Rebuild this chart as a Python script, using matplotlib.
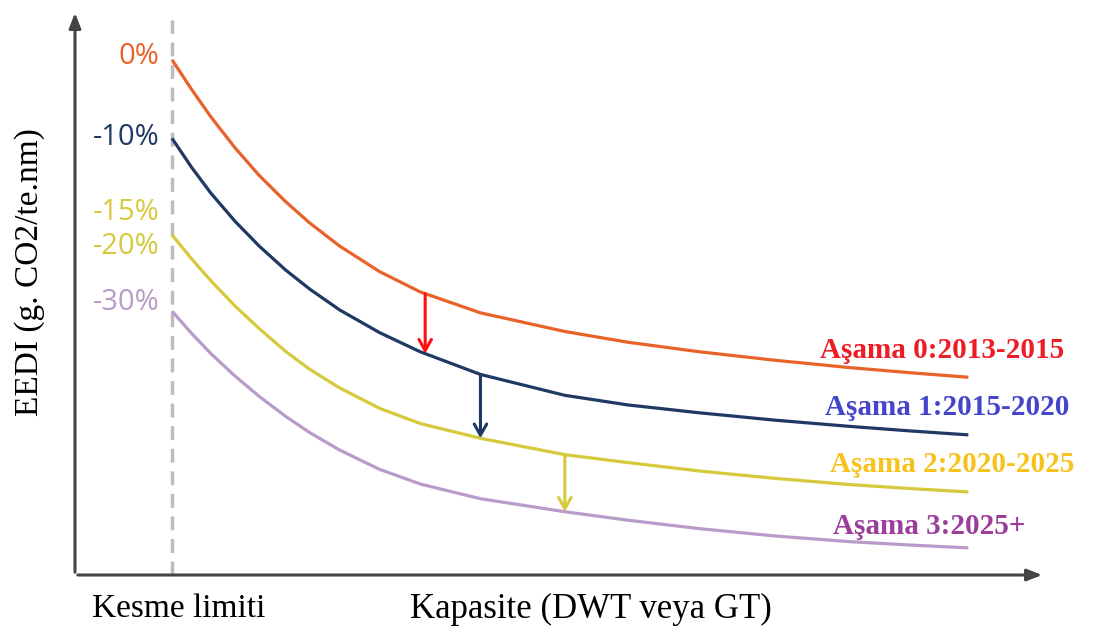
import numpy as np
import matplotlib.pyplot as plt

# capacity (arbitrary units) and EEDI reference lines (arbitrary units)
capacity = [10, 12, 14, 16.5, 19, 21.7, 24.2, 27.3, 31.4, 35.6, 41.8, 50.5, 57, 64.4, 72.2, 79.9, 86.1, 92.1]
phase0 = [91.2, 86.0, 81.1, 75.6, 70.7, 66.1, 62.3, 58.2, 53.7, 50.1, 46.4, 43.1, 41.2, 39.5, 38.0, 36.7, 35.8, 35.0]
phase1 = [77.3, 72.2, 67.6, 62.6, 58.2, 54.0, 50.6, 46.9, 42.9, 39.5, 35.5, 31.8, 30.1, 28.7, 27.4, 26.3, 25.5, 24.8]
phase2 = [60.2, 56.0, 52.1, 47.6, 43.6, 39.6, 36.4, 33.1, 29.5, 26.8, 24.2, 21.3, 19.9, 18.4, 17.1, 16.0, 15.3, 14.7]
phase3 = [46.7, 42.8, 39.2, 35.2, 31.6, 28.1, 25.2, 22.1, 18.7, 16.1, 13.5, 11.2, 9.7, 8.2, 6.9, 5.9, 5.3, 4.8]

cutoff = 10
arrow_x = [36.1, 41.8, 50.5]

line_colors = ['#e8622a', '#1f3864', '#d6c93c', '#b99bc9']
text_colors = ['#ee1c25', '#4444cc', '#f7c21b', '#9b3d9b']
phase_labels = ['Aşama 0:2013-2015', 'Aşama 1:2015-2020', 'Aşama 2:2020-2025', 'Aşama 3:2025+']
pct_labels = ['0%', '-10%', '-15%', '-20%', '-30%']
pct_y = [91.7, 77.5, 64.1, 58.2, 48.3]
pct_colors = ['#e8622a', '#1f3864', '#d6c93c', '#d6c93c', '#b99bc9']

fig = plt.figure(figsize=(10.93, 6.42), dpi=100)
ax = fig.add_axes([75 / 1093, 67 / 642, 970 / 1093, 565 / 642])
ax.set_xlim(0, 100)
ax.set_ylim(0, 100)
ax.axis('off')

# axes with arrow heads
axis_col = '#444444'
ax.annotate('', xy=(0, 1.0), xytext=(0, 0), xycoords='axes fraction',
            arrowprops=dict(arrowstyle='-|>,head_length=0.9,head_width=0.35', color=axis_col, lw=2.2))
ax.annotate('', xy=(1.0, 0), xytext=(0, 0), xycoords='axes fraction',
            arrowprops=dict(arrowstyle='-|>,head_length=0.9,head_width=0.35', color=axis_col, lw=2.2))

# cut-off line
ax.plot([cutoff, cutoff], [0, 98.2], color='#bdbdbd', lw=2.5, ls=(0, (4, 2.5)))

series = [phase0, phase1, phase2, phase3]
for ys, c in zip(series, line_colors):
    ax.plot(capacity, ys, color=c, lw=2.3, solid_capstyle='butt', solid_joinstyle='round')

# arrows between phases
arrow_colors = ['#ff1010', '#1f3864', '#d6c93c']
for i, x in enumerate(arrow_x):
    y0 = np.interp(x, capacity, series[i])
    y1 = np.interp(x, capacity, series[i + 1])
    ax.annotate('', xy=(x, y1), xytext=(x, y0),
                arrowprops=dict(arrowstyle='->,head_length=0.8,head_width=0.45',
                                color=arrow_colors[i], lw=2.2, shrinkA=0, shrinkB=0))

for lab, y, c in zip(pct_labels, pct_y, pct_colors):
    ax.text(cutoff - 1.3, y, lab, color=c, fontsize=21, family='Open Sans',
            ha='right', va='center')

label_x = [76.8, 77.3, 77.8, 78.1]
label_y = [39.8, 29.6, 19.5, 8.5]
for lab, x, y, c in zip(phase_labels, label_x, label_y, text_colors):
    ax.text(x, y, lab, color=c, fontsize=21, family='Liberation Serif',
            fontweight='bold', ha='left', va='center', clip_on=False)

fig.text(30 / 1093, 1 - 272 / 642, 'EEDI (g. CO2/te.nm)', rotation=90,
         fontsize=24, family='Liberation Serif', ha='center', va='center')
fig.text(179 / 1093, 1 - 609 / 642, 'Kesme limiti', fontsize=24,
         family='Liberation Serif', ha='center', va='center')
fig.text(591 / 1093, 1 - 609 / 642, 'Kapasite (DWT veya GT)', fontsize=25,
         family='Liberation Serif', ha='center', va='center')

fig.savefig('out.png', dpi=100, facecolor='white')
